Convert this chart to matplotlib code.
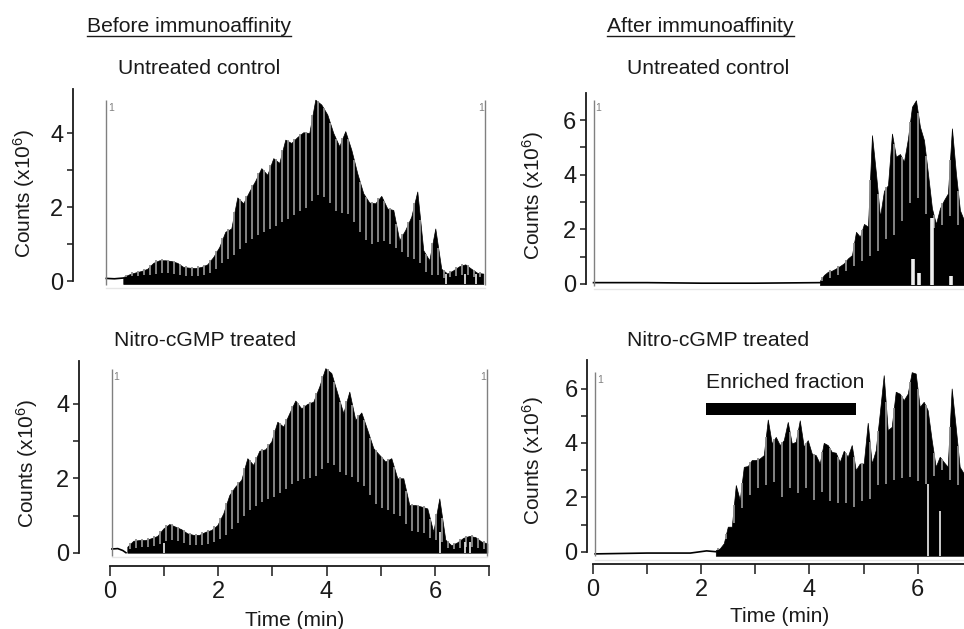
import numpy as np
import matplotlib
matplotlib.use('Agg')
import matplotlib.pyplot as plt

plt.rcParams['font.family'] = ['Liberation Sans', 'DejaVu Sans']
plt.rcParams['mathtext.default'] = 'regular'

W, H = 964, 629
ink = '#1a1a1a'

# peak tops and solid lower envelope of each chromatogram, counts x10^6
before_ctrl_top = [.11, .18, .23, .27, .33, .49, .56, .56, .54, .49,
                   .38, .36, .35, .38, .45, .65, .92, 1.33, 1.42, 2.26,
                   2.10, 2.42, 2.71, 3.05, 2.87, 3.32, 3.19, 3.82, 3.73, 3.89,
                   4.02, 4.00, 4.90, 4.77, 4.50, 4.00, 3.64, 4.05, 3.55, 2.91,
                   2.37, 2.12, 2.10, 2.30, 1.96, 1.92, 1.10, 1.38, 1.74, 2.42,
                   .83, .56, 1.42, .33, .20, .29, .40, .45, .33, .22, .20]
before_ctrl_low = [.10, .12, .13, .14, .16, .19, .20, .22, .20, .18,
                   .15, .14, .13, .14, .16, .25, .40, .55, .62, .78,
                   .95, 1.08, 1.18, 1.30, 1.37, 1.45, 1.55, 1.65, 1.70, 1.85,
                   1.95, 2.00, 2.30, 2.35, 2.20, 2.00, 1.80, 1.85, 1.75, 1.45,
                   1.20, 1.00, 1.02, 1.10, 1.05, .95, .85, .70, .60, .60,
                   .35, .15, .20, .10, .08, .12, .15, .18, .12, .10, .10]

before_nitro_top = [.16, .32, .34, .34, .39, .45, .65, .77, .70, .63,
                    .52, .48, .48, .56, .61, .74, 1.06, 1.55, 1.78, 1.96,
                    2.54, 2.36, 2.74, 2.78, 2.99, 3.52, 3.39, 3.75, 4.09, 3.88,
                    4.00, 4.06, 4.47, 4.96, 4.83, 4.29, 3.75, 4.33, 3.57, 3.77,
                    3.30, 2.81, 2.63, 2.45, 2.54, 2.00, 2.00, 1.28, 1.28, 1.24,
                    1.19, .56, 1.46, .35, .20, .28, .40, .45, .42, .30, .25]
before_nitro_low = [.10, .12, .14, .14, .15, .20, .28, .35, .33, .28,
                    .22, .20, .20, .22, .27, .33, .42, .55, .72, .90,
                    1.10, 1.20, 1.30, 1.42, 1.47, 1.55, 1.65, 1.80, 1.90, 1.95,
                    2.00, 2.00, 2.10, 2.40, 2.40, 2.30, 2.05, 2.15, 1.90, 1.90,
                    1.70, 1.40, 1.20, 1.20, 1.08, 1.00, .95, .60, .55, .55,
                    .50, .30, .40, .15, .10, .12, .15, .15, .14, .10, .10]

after_ctrl_top = [.12, .33, .45, .49, .57, .66, .76, .94, 1.06, 1.91,
                  1.73, 2.20, 2.10, 5.45, 4.05, 2.46, 3.41, 3.62, 5.51, 4.66,
                  4.76, 4.48, 5.33, 6.49, 6.73, 5.76, 5.27, 4.05, 2.77, 2.20,
                  2.77, 3.07, 3.32, 5.70, 4.05, 2.70, 2.34]
after_ctrl_low = [.08, .15, .20, .25, .30, .35, .42, .50, .60, .75,
                  .80, .90, 1.00, 1.05, 1.10, 1.30, 1.65, 1.65, 1.70, 1.90,
                  2.20, 2.40, 2.80, 3.10, 3.30, 3.00, 2.70, 2.40, 1.90, 2.20,
                  2.30, 2.00, 2.30, 2.70, 2.30, 2.00, 2.00]

after_nitro_top = [.06, .12, .31, .92, .92, 2.45, 1.90, 3.12, 3.15, 3.37,
                   3.37, 3.43, 3.55, 4.86, 3.98, 4.22, 3.92, 4.10, 4.77, 3.98,
                   4.04, 4.83, 3.86, 4.10, 3.61, 3.55, 3.24, 4.00, 3.92, 3.67,
                   3.64, 3.30, 3.71, 3.49, 3.92, 3.00, 3.24, 3.24, 4.74, 3.24,
                   3.73, 5.08, 6.49, 4.47, 4.59, 5.88, 5.81, 5.57, 5.81, 6.60,
                   6.55, 5.32, 5.51, 5.20, 4.10, 3.12, 3.49, 3.30, 3.12, 6.00,
                   4.59, 3.12, 2.88]
after_nitro_low = [.05, .10, .30, .60, .90, 1.20, 1.30, 1.90, 2.00, 2.20,
                   2.30, 2.40, 2.50, 2.40, 2.60, 2.50, 2.10, 1.90, 2.40, 2.30,
                   2.00, 2.30, 2.40, 2.30, 2.10, 1.70, 2.30, 2.10, 1.90, 1.80,
                   1.80, 1.80, 1.80, 1.75, 1.80, 1.50, 1.90, 1.80, 2.20, 1.70,
                   2.50, 2.40, 2.50, 2.50, 2.60, 2.70, 2.80, 2.65, 2.60, 2.90,
                   2.70, 2.50, 2.50, 2.50, 2.70, 2.90, 3.00, 3.00, 2.60, 2.70,
                   2.50, 2.40, 2.40]

# flat trace before the first scan: time, counts
before_ctrl_lead = ([-.05, .10, .26], [.07, .06, .08])
before_nitro_lead = ([.04, .15, .24, .30], [.10, .11, .06, .00])
after_ctrl_lead = ([.01, 1.0, 2.0, 3.0, 4.2], [.05, .05, .03, .03, .05])
after_nitro_lead = ([.04, 1.0, 1.8, 2.1, 2.27], [-.08, -.05, -.05, .03, .0])

# dropouts in the traces: time, height, width in points
before_ctrl_gaps = ([6.2, 6.55, 6.75], [.2, .2, .2], 1.2)
before_nitro_gaps = ([1.0, 6.1, 6.55, 6.65], [.25, .55, .3, .3], 1.2)
after_ctrl_gaps = ([5.92, 6.03, 6.27, 6.62], [.9, .4, 2.4, .3], 2.6)
after_nitro_gaps = ([6.2, 6.42], [2.5, 1.5], 1.2)

enriched_span = [2.08, 4.87]
enriched_level = [5.02, 5.48]

panels = [
    dict(top=before_ctrl_top, low=before_ctrl_low, lead=before_ctrl_lead, gaps=before_ctrl_gaps,
         t0=.263, step=.1105, slit=1, base=-.08, left=73, right=490, x0=109, xs=54.3,
         y0=281, ys=37, ymax=5.19, bottom=290, yt=[0, 2, 4], ym=[1, 3], trace=(-.05, 6.93),
         tr_y=(100, 285), floor=288, title='Untreated control', title_x=118, title_y=68,
         ylab_x=24, ylab_y=193, xaxis=False),
    dict(top=before_nitro_top, low=before_nitro_low, lead=before_nitro_lead, gaps=before_nitro_gaps,
         t0=.325, step=.1107, slit=1, base=0, left=79, right=490, x0=109.7, xs=54.2,
         y0=552.7, ys=37.2, ymax=5.15, bottom=566, yt=[0, 2, 4], ym=[1, 3], trace=(.04, 6.97),
         tr_y=(369, 556), floor=556.5, title='Nitro-cGMP treated', title_x=114, title_y=340,
         ylab_x=27, ylab_y=463, xaxis=True),
    dict(top=after_ctrl_top, low=after_ctrl_low, lead=after_ctrl_lead, gaps=after_ctrl_gaps,
         t0=4.196, step=.0739, slit=2, base=-.04, left=586, right=964, x0=593, xs=54.1,
         y0=284, ys=27.3, ymax=7.0, bottom=292, yt=[0, 2, 4, 6], ym=[1, 3, 5], trace=(.01, 8),
         tr_y=(100, 286), floor=289, title='Untreated control', title_x=627, title_y=68,
         ylab_x=533, ylab_y=195, xaxis=False),
    dict(top=after_nitro_top, low=after_nitro_low, lead=after_nitro_lead, gaps=after_nitro_gaps,
         t0=2.27, step=.0739, slit=2, base=-.15, left=587.3, right=964, x0=593, xs=54.1,
         y0=551.7, ys=27.2, ymax=7.05, bottom=564, yt=[0, 2, 4, 6], ym=[1, 3, 5], trace=(.04, 8),
         tr_y=(372, 556), floor=560, title='Nitro-cGMP treated', title_x=627, title_y=340,
         ylab_x=533, ylab_y=460, xaxis=True),
]

fig = plt.figure(figsize=(W / 100, H / 100), dpi=100)


def fx(x):
    return x / W


def fy(y):
    return 1 - y / H


for p in panels:
    ytop = p['y0'] - p['ymax'] * p['ys']
    ax = fig.add_axes([fx(p['left']), fy(p['bottom']),
                       (p['right'] - p['left']) / W, (p['bottom'] - ytop) / H])
    ax.patch.set_alpha(0)

    times = p['t0'] + p['step'] * np.arange(len(p['top']))
    top = np.array(p['top'])
    low = np.array(p['low'])

    # faint smear under the trace, then the black body of the trace
    ax.plot(p['trace'], [-(p['floor'] - p['y0']) / p['ys']] * 2, color='#e6e6e6', lw=1)
    ax.fill_between(times, p['base'], top, color='black', lw=.5)
    ax.plot(p['lead'][0], p['lead'][1], color='black', lw=1.2)

    # pale slits between scans, from the lower envelope up through the peak
    mids = (times[1:] + times[:-1]) / 2
    mid_top = (top[1:] + top[:-1]) / 2
    mid_low = (low[1:] + low[:-1]) / 2
    s = p['slit']
    ax.vlines(mids[::s], mid_low[::s], mid_top[::s] + .03, color='#8e8e8e', lw=1.3)

    ax.vlines(p['gaps'][0], p['base'], p['gaps'][1], color='#eeeeee', lw=p['gaps'][2])

    y_hi = (p['y0'] - p['tr_y'][0]) / p['ys']
    y_lo = (p['y0'] - p['tr_y'][1]) / p['ys']
    ax.vlines(p['trace'][0], y_lo, y_hi, color='#808080', lw=1)
    if p['trace'][1] < 7.5:
        ax.vlines(p['trace'][1], y_lo, y_hi, color='#808080', lw=1)
        ax.text(p['trace'][1] - .03, y_hi - .22, '1', color='#808080', fontsize=7.5,
                ha='right', va='center')
    ax.text(p['trace'][0] + .03, y_hi - .22 if p['ys'] > 30 else y_hi - .3, '1', color='#808080',
            fontsize=7.5, ha='left', va='center')

    for side in ['top', 'right']:
        ax.spines[side].set_visible(False)
    ax.spines['left'].set_bounds(0, p['ymax'])
    ax.spines['left'].set_linewidth(1.3)
    ax.spines['left'].set_color(ink)
    ax.set_yticks(p['yt'])
    ax.set_yticks(p['ym'], minor=True)
    ax.tick_params(axis='y', which='both', length=4, width=1.1, color=ink, pad=3,
                   labelsize=17, labelcolor=ink)

    if p['xaxis']:
        ax.spines['bottom'].set_bounds(0, 7)
        ax.spines['bottom'].set_linewidth(1.3)
        ax.spines['bottom'].set_color(ink)
        ax.set_xticks([0, 2, 4, 6])
        ax.set_xticks([1, 3, 5, 7], minor=True)
        ax.tick_params(axis='x', which='both', length=7, width=1.1, color=ink, pad=4,
                       labelsize=17, labelcolor=ink)
    else:
        ax.spines['bottom'].set_visible(False)
        ax.set_xticks([])

    # ticks widen the view, so the limits go last
    ax.set_xlim((p['left'] - p['x0']) / p['xs'], (p['right'] - p['x0']) / p['xs'])
    ax.set_ylim(-(p['bottom'] - p['y0']) / p['ys'], p['ymax'])

    fig.text(fx(p['ylab_x']), fy(p['ylab_y']), 'Counts (x10$^{6}$)', rotation=90,
             fontsize=15, color=ink, ha='center', va='center')
    fig.text(fx(p['title_x']), fy(p['title_y']), p['title'], fontsize=15.2, color=ink,
             ha='left', va='center')

    if p['title_x'] > 600 and p['xaxis']:
        ax.fill_between(enriched_span, enriched_level[0], enriched_level[1], color='black', lw=0)
        ax.text(2.09, (p['y0'] - 383) / p['ys'], 'Enriched fraction', fontsize=15.2, color=ink,
                ha='left', va='center')

fig.text(fx(295), fy(620), 'Time (min)', fontsize=15, color=ink, ha='center', va='center')
fig.text(fx(780), fy(617), 'Time (min)', fontsize=15, color=ink, ha='center', va='center')

# underlined group headings
fig.text(fx(87), fy(26), 'Before immunoaffinity', fontsize=15.2, color=ink, ha='left', va='center')
fig.text(fx(607), fy(26), 'After immunoaffinity', fontsize=15.2, color=ink, ha='left', va='center')
fig.add_artist(plt.Line2D([fx(87), fx(291)], [fy(36), fy(36)], color=ink, lw=1))
fig.add_artist(plt.Line2D([fx(607), fx(794)], [fy(36), fy(36)], color=ink, lw=1))

plt.savefig('out.png', dpi=100)
